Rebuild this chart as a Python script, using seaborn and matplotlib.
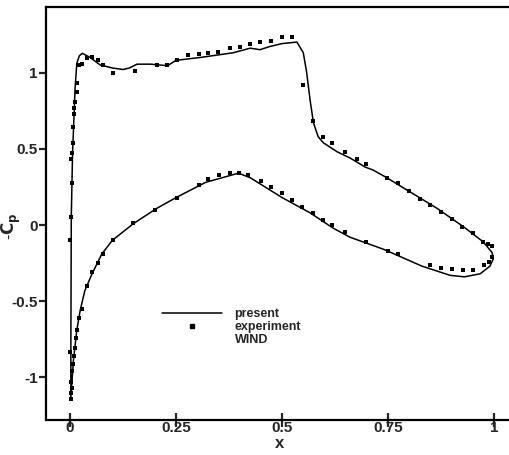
import matplotlib
matplotlib.use("Agg")
import matplotlib.pyplot as plt
import seaborn as sns
import pandas as pd
from matplotlib.lines import Line2D

# ---- data ----
# "present" computation, upper surface (LE -> TE)
x_upper_line = [0.002, 0.002, 0.003, 0.006, 0.012, 0.016, 0.022, 0.029, 0.047, 0.071, 0.10,
                0.125, 0.14, 0.158, 0.19, 0.23, 0.25, 0.31, 0.385, 0.425, 0.448, 0.47, 0.50,
                0.535, 0.55, 0.558, 0.566, 0.574, 0.585, 0.597, 0.63, 0.66, 0.696, 0.715,
                0.747, 0.80, 0.865, 0.927, 0.974, 0.995, 0.998]
cp_upper_line = [-1.13, -0.83, 0.05, 0.47, 0.90, 1.06, 1.11, 1.126, 1.10, 1.05, 1.03,
                 1.02, 1.03, 1.055, 1.055, 1.045, 1.08, 1.10, 1.13, 1.16, 1.15, 1.17, 1.19,
                 1.20, 1.13, 1.00, 0.82, 0.67, 0.58, 0.54, 0.48, 0.44, 0.38, 0.36,
                 0.31, 0.22, 0.11, -0.01, -0.11, -0.18, -0.22]
# "present" computation, lower surface (LE -> TE)
x_lower_line = [0.002, 0.008, 0.016, 0.024, 0.035, 0.052, 0.075, 0.10, 0.15, 0.205, 0.25,
                0.32, 0.397, 0.425, 0.50, 0.566, 0.62, 0.66, 0.74, 0.83, 0.896, 0.93,
                0.967, 0.99, 0.998]
cp_lower_line = [-1.13, -0.89, -0.69, -0.56, -0.43, -0.32, -0.19, -0.10, 0.01, 0.11, 0.18,
                 0.28, 0.34, 0.31, 0.18, 0.08, -0.02, -0.08, -0.16, -0.27, -0.33, -0.34,
                 -0.32, -0.27, -0.22]

# experiment, upper surface
x_exp_upper = [0.0, 0.002, 0.004, 0.002, 0.005, 0.006, 0.006, 0.009, 0.009, 0.012, 0.016,
               0.017, 0.022, 0.028, 0.041, 0.053, 0.065, 0.077, 0.102, 0.153, 0.205, 0.228,
               0.252, 0.279, 0.303, 0.326, 0.35, 0.377, 0.40, 0.425, 0.448, 0.474, 0.50,
               0.523, 0.55, 0.574, 0.597, 0.618, 0.649, 0.676, 0.698, 0.748, 0.774, 0.80,
               0.825, 0.849, 0.875, 0.90, 0.925, 0.951, 0.974, 0.986, 0.995]
cp_exp_upper = [-0.10, 0.05, 0.275, 0.43, 0.47, 0.54, 0.64, 0.73, 0.77, 0.81, 0.87,
                0.93, 1.05, 1.055, 1.095, 1.10, 1.08, 1.05, 1.00, 1.01, 1.05, 1.05,
                1.08, 1.115, 1.12, 1.13, 1.135, 1.16, 1.17, 1.19, 1.20, 1.21, 1.23,
                1.235, 0.92, 0.68, 0.58, 0.54, 0.48, 0.43, 0.40, 0.31, 0.275, 0.22,
                0.17, 0.13, 0.085, 0.04, -0.01, -0.055, -0.11, -0.125, -0.14]
# experiment, lower surface
x_exp_lower = [0.0, 0.003, 0.003, 0.004, 0.003, 0.004, 0.008, 0.009, 0.012, 0.014, 0.016,
               0.021, 0.029, 0.039, 0.053, 0.065, 0.077, 0.102, 0.149, 0.20, 0.252, 0.303,
               0.326, 0.352, 0.377, 0.399, 0.42, 0.45, 0.474, 0.50, 0.523, 0.547, 0.573,
               0.597, 0.618, 0.649, 0.698, 0.75, 0.774, 0.849, 0.875, 0.90, 0.927, 0.951,
               0.976, 0.988, 0.995]
cp_exp_lower = [-0.83, -1.14, -1.10, -1.07, -1.03, -0.96, -0.91, -0.86, -0.81, -0.74, -0.69,
                -0.61, -0.55, -0.40, -0.31, -0.25, -0.19, -0.10, 0.01, 0.10, 0.18, 0.26,
                0.30, 0.33, 0.34, 0.34, 0.33, 0.29, 0.25, 0.21, 0.164, 0.12, 0.08,
                0.033, 0.0, -0.045, -0.11, -0.17, -0.19, -0.26, -0.28, -0.29, -0.295, -0.295,
                -0.26, -0.24, -0.21]

x_ticks = [0, 0.25, 0.5, 0.75, 1]
x_tick_labels = ["0", "0.25", "0.5", "0.75", "1"]
y_ticks = [-1, -0.5, 0, 0.5, 1]
y_tick_labels = ["-1", "-0.5", "0", "0.5", "1"]
legend_labels = ["present", "experiment", "WIND"]

# ---- build tables ----
line_df = pd.DataFrame({
    "x": x_lower_line[::-1] + x_upper_line[1:],
    "cp": cp_lower_line[::-1] + cp_upper_line[1:],
})
exp_df = pd.DataFrame({
    "x": x_exp_upper + x_exp_lower,
    "cp": cp_exp_upper + cp_exp_lower,
})

sns.set_style("white")
plt.rcParams["font.family"] = ["Liberation Sans", "DejaVu Sans"]
plt.rcParams["font.weight"] = "bold"
plt.rcParams["mathtext.default"] = "bf"

W, H = 509, 455
fig = plt.figure(figsize=(W / 100, H / 100), dpi=100)
ax = fig.add_axes([46 / W, (H - 420) / H, (W - 46) / W, (420 - 7) / H])

sns.lineplot(data=line_df, x="x", y="cp", sort=False, estimator=None,
             color="black", linewidth=1.1, ax=ax)
sns.scatterplot(data=exp_df, x="x", y="cp", marker="s", s=9, color="black",
                linewidth=0, ax=ax)

ax.set_xlim(-0.0566, 1.035)
ax.set_ylim(-1.279, 1.43)

for side in ["left", "bottom", "top"]:
    ax.spines[side].set_linewidth(1.6)
    ax.spines[side].set_color("black")
ax.spines["right"].set_visible(False)

ax.set_xticks(x_ticks)
ax.set_xticklabels(x_tick_labels, fontsize=11, fontweight="bold")
ax.set_yticks(y_ticks)
ax.set_yticklabels(y_tick_labels, fontsize=11, fontweight="bold")
ax.tick_params(axis="x", direction="inout", length=10, width=1.6, pad=-4, bottom=True)
ax.tick_params(axis="y", direction="out", length=5, width=1.6, pad=1, left=True)

ax.set_xlabel("x", fontsize=12, fontweight="bold")
ax.xaxis.set_label_coords(0.505, -0.038)
ax.set_ylabel(r"-$\mathbf{C_p}$", fontsize=12)
ax.yaxis.set_label_coords(-0.05, 0.47)

handles = [
    Line2D([], [], color="black", linewidth=1.1),
    Line2D([], [], color="black", marker="s", markersize=2.8, linestyle="none"),
    Line2D([], [], linestyle="none"),
]
ax.legend(handles, legend_labels, loc="upper left",
          bbox_to_anchor=(162 / W, 1 - 308.5 / H), bbox_transform=fig.transFigure,
          frameon=False, handlelength=4.8, handletextpad=1.0,
          labelspacing=0.05, borderpad=0, borderaxespad=0,
          prop={"weight": "bold", "size": 9})

fig.savefig("out.png", dpi=100)
